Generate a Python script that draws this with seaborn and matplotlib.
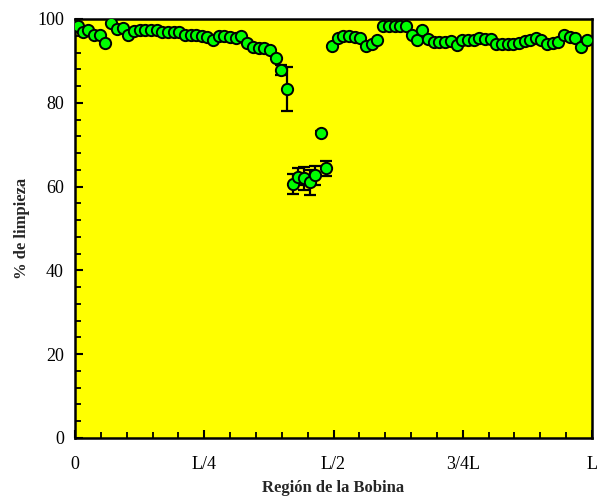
import matplotlib
matplotlib.use("Agg")
import matplotlib.pyplot as plt
from matplotlib.ticker import MultipleLocator, FixedLocator
import seaborn as sns
import pandas as pd

# Posición a lo largo de la bobina (fracción de L)
posicion = [0.005, 0.015, 0.026, 0.037, 0.048, 0.059, 0.070, 0.081, 0.092, 0.103,
            0.114, 0.125, 0.136, 0.147, 0.158, 0.169, 0.180, 0.191, 0.202, 0.213,
            0.224, 0.234, 0.245, 0.256, 0.267, 0.278, 0.289, 0.300, 0.311, 0.322,
            0.333, 0.344, 0.355, 0.366, 0.377, 0.388, 0.399, 0.410, 0.421, 0.432,
            0.443, 0.454, 0.464, 0.475, 0.486, 0.497, 0.508, 0.519, 0.530, 0.541,
            0.552, 0.563, 0.574, 0.585, 0.596, 0.607, 0.618, 0.629, 0.640, 0.651,
            0.662, 0.672, 0.683, 0.694, 0.705, 0.716, 0.727, 0.738, 0.749, 0.760,
            0.771, 0.782, 0.793, 0.804, 0.815, 0.826, 0.837, 0.848, 0.859, 0.870,
            0.881, 0.891, 0.902, 0.913, 0.924, 0.935, 0.946, 0.957, 0.968, 0.979,
            0.990]

# % de limpieza
limpieza = [98.4, 96.8, 97.4, 96.3, 96.3, 94.2, 99.0, 97.6, 97.9, 96.3,
            97.2, 97.4, 97.4, 97.4, 97.4, 97.0, 96.8, 96.8, 97.0, 96.3,
            96.2, 96.3, 95.9, 95.8, 95.0, 96.0, 96.0, 95.6, 95.4, 96.0,
            94.2, 93.4, 93.0, 93.0, 92.6, 90.8, 87.8, 83.3, 60.6, 62.4,
            62.0, 61.0, 62.7, 72.9, 64.4, 93.6, 95.5, 96.0, 96.0, 95.8,
            95.4, 93.6, 94.0, 95.0, 98.4, 98.4, 98.4, 98.4, 98.4, 96.2,
            95.0, 97.4, 95.2, 94.6, 94.6, 94.6, 94.8, 93.8, 95.0, 95.0,
            95.0, 95.4, 95.2, 95.2, 94.0, 94.0, 94.0, 94.0, 94.2, 94.8,
            95.0, 95.5, 95.0, 94.0, 94.2, 94.6, 96.2, 95.8, 95.4, 93.4,
            95.0]

# Barras de error (desviación)
error = [0.0] * 36 + [1.2, 5.3, 2.4, 2.0, 2.7, 3.0, 2.3, 0.4, 1.8] + [0.0] * 46

ticks_x = [0.0, 0.25, 0.5, 0.75, 1.0]
etiquetas_x = ["0", "L/4", "L/2", "3/4L", "L"]
ticks_y = [0, 20, 40, 60, 80, 100]

df = pd.DataFrame({"pos": posicion, "limpieza": limpieza, "err": error})

sns.set_theme(style="ticks")
plt.rcParams["font.family"] = ["Liberation Serif", "DejaVu Serif"]

fig = plt.figure(figsize=(5.98, 5.0), dpi=100)
ax = fig.add_axes([0.1254, 0.124, 0.8646, 0.838])
ax.set_facecolor("#FFFF00")

ax.errorbar(df["pos"], df["limpieza"], yerr=df["err"], fmt="none",
            ecolor="black", elinewidth=1.6, capsize=4, capthick=1.6, zorder=2)
sns.scatterplot(data=df, x="pos", y="limpieza", ax=ax, marker="o", s=66,
                color="#00FF00", edgecolor="black", linewidth=1.4, zorder=3,
                legend=False)

ax.set_xlim(0, 1)
ax.set_ylim(0, 100)
ax.xaxis.set_major_locator(FixedLocator(ticks_x))
ax.set_xticklabels(etiquetas_x)
ax.xaxis.set_minor_locator(MultipleLocator(0.05))
ax.yaxis.set_major_locator(FixedLocator(ticks_y))
ax.yaxis.set_minor_locator(MultipleLocator(4))

ax.tick_params(which="major", direction="in", length=6, width=1.5,
               labelsize=13, colors="black")
ax.tick_params(axis="x", which="major", pad=13)
ax.tick_params(axis="y", which="major", pad=8)
ax.tick_params(which="minor", direction="in", length=4, width=1.3, colors="black")
ax.tick_params(top=False, right=False, which="both")

for side in ["left", "bottom", "top", "right"]:
    ax.spines[side].set_visible(True)
    ax.spines[side].set_color("black")
    ax.spines[side].set_linewidth(1.8)

ax.set_xlabel("Región de la Bobina", fontsize=12, fontweight="bold", labelpad=5)
ax.set_ylabel("% de limpieza", fontsize=12, fontweight="bold", labelpad=5)

fig.savefig("out.png", dpi=100)
